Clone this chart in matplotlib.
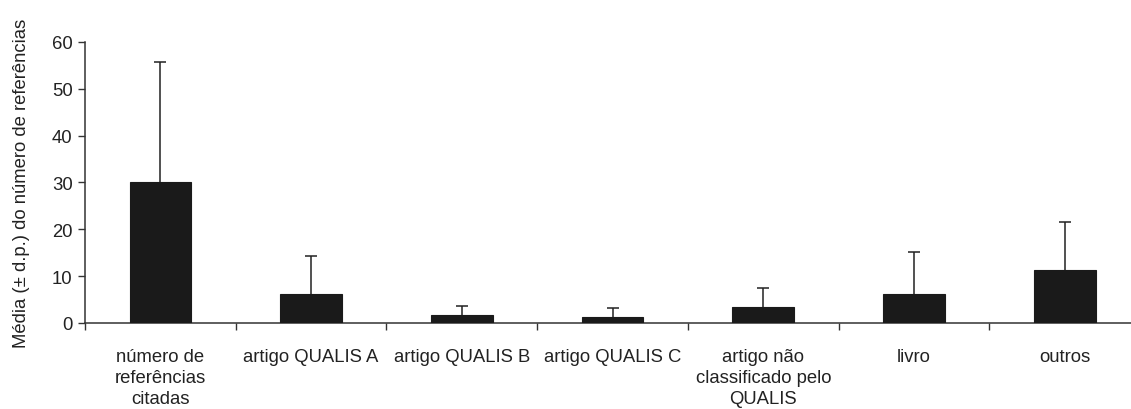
import matplotlib

matplotlib.use("Agg")
import matplotlib.pyplot as plt
import numpy as np

plt.rcParams["font.family"] = ["Liberation Sans", "DejaVu Sans"]

categories = [
    "número de\nreferências\ncitadas",
    "artigo QUALIS A",
    "artigo QUALIS B",
    "artigo QUALIS C",
    "artigo não\nclassificado pelo\nQUALIS",
    "livro",
    "outros",
]
means = [30.0, 6.1, 1.6, 1.2, 3.4, 6.1, 11.3]
sds = [25.8, 8.2, 2.0, 2.1, 4.1, 9.1, 10.3]

AX_COL = "#333333"
BAR_COL = "#1a1a1a"
FS = 13.3

fig = plt.figure(figsize=(11.31, 4.10), dpi=100)
ax = fig.add_axes([0.0752, 0.2098, 0.9328, 0.6854])

x = np.arange(len(categories))
ax.bar(x, means, width=0.41, color=BAR_COL, edgecolor=BAR_COL, linewidth=0.8, zorder=3)
# only the upper whisker is shown, so hide the lower cap
_, caps, _ = ax.errorbar(x, means, yerr=[np.zeros(len(sds)), sds], fmt="none",
                         ecolor="#222222", elinewidth=1.1, capsize=4.5, capthick=1.1,
                         zorder=2)
caps[0].set_visible(False)

ax.set_xlim(-0.5, len(categories) - 0.5)
ax.set_ylim(0, 60)
ax.set_yticks(range(0, 61, 10))
ax.set_xticks(x)
ax.set_xticklabels(categories, fontsize=FS, color="#222222", linespacing=1.3)
ax.set_xticks(np.arange(-0.5, len(categories)), minor=True)
ax.tick_params(axis="x", which="major", length=0, pad=18)
ax.tick_params(axis="x", which="minor", length=5, width=1, color=AX_COL, direction="out")
ax.tick_params(axis="y", length=5, width=1, color=AX_COL, labelsize=FS,
               labelcolor="#222222", pad=4)

for side in ("top", "right"):
    ax.spines[side].set_visible(False)
for side in ("left", "bottom"):
    ax.spines[side].set_color(AX_COL)
    ax.spines[side].set_linewidth(1.1)

ax.set_ylabel("Média (± d.p.) do número de referências", fontsize=FS,
              color="#222222", labelpad=16)

fig.savefig("out.png", dpi=100)
